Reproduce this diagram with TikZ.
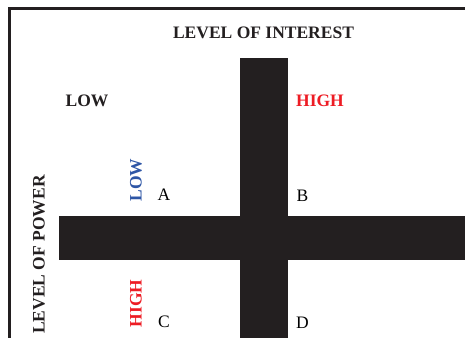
\documentclass[tikz,border=0pt]{standalone}
\usepackage{fontspec}
\setmainfont{Liberation Serif}
\definecolor{barblack}{HTML}{231F20}
\definecolor{hired}{HTML}{ED1C24}
\definecolor{loblue}{HTML}{2E56A6}
\begin{document}
\begin{tikzpicture}[x=1pt,y=-1pt,
  lbl/.style={font=\fontsize{17.5}{20}\selectfont\bfseries, inner sep=0pt},
  quad/.style={font=\fontsize{17.5}{20}\selectfont, inner sep=0pt, anchor=base},
  bar/.style={fill=barblack, draw=none},
  frame/.style={draw=barblack, line width=2.5pt}]
\useasboundingbox (0,0) rectangle (465,338);
% frame
\coordinate (tl) at (9.5,8.7);
\coordinate (tr) at (465,8.7);
\coordinate (bl) at (9.5,338);
\draw[frame] (tr) -- (tl) -- (bl);
% bars
\path[bar] (240,58) rectangle (288.3,338);
\path[bar] (58.5,216) rectangle (465,260);
% labels
\node[lbl, anchor=base, text=barblack] (interest) at (263.5,38.7) {LEVEL OF INTEREST};
\node[lbl, anchor=base, text=barblack] (lowi) at (87,106.5) {LOW};
\node[lbl, anchor=base, text=hired] (highi) at (320,106.5) {HIGH};
\node[lbl, rotate=90, anchor=base, text=barblack] (power) at (44.5,254.5) {LEVEL OF POWER};
\node[lbl, rotate=90, anchor=base, text=loblue] (lowp) at (141.5,180) {LOW};
\node[lbl, rotate=90, anchor=base, text=hired] (highp) at (141.5,303.5) {HIGH};
\node[quad] (A) at (164,200.7) {A};
\node[quad] (B) at (302.5,201) {B};
\node[quad] (C) at (164,327) {C};
\node[quad] (D) at (302.5,328) {D};
\end{tikzpicture}
\end{document}
